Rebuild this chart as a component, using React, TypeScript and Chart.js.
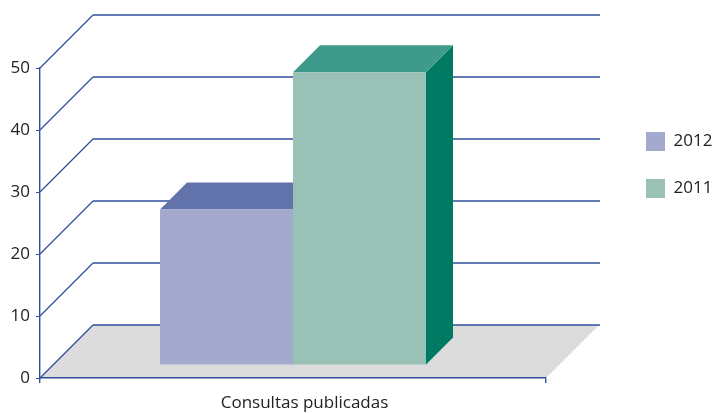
import React, { useEffect, useRef } from "react";
import { Chart, registerables } from "chart.js";

Chart.register(...registerables);

const categories = ["Consultas publicadas"];
const seriesNames = ["2012", "2011"];
const values2012 = [25.1];
const values2011 = [47.2];
const yTicksMax = 50;
const yTicksStep = 10;

const frontColors = ["#a3aacd", "#9ac1b6"];
const topColors = ["#6272ab", "#3e9a8b"];
const sideColors = ["#55649f", "#007a63"];

const AXIS = "#2f4f9c";
const FLOOR = "#dcdcdc";
const TEXT = "#222222";
const FONT = "'Open Sans', sans-serif";
const WALL = 53;
const BAR_DEPTH = 27;
const BAR_LIFT = 13;

const poly = (ctx: CanvasRenderingContext2D, pts: number[][], fill: string) => {
  ctx.beginPath();
  pts.forEach(([x, y], i) => (i ? ctx.lineTo(x, y) : ctx.moveTo(x, y)));
  ctx.closePath();
  ctx.fillStyle = fill;
  ctx.fill();
};

const solid3d = {
  id: "solid3d",
  afterLayout(chart: any) {
    const legend = chart.legend;
    if (!legend) return;
    const pad = legend.options.labels.padding;
    legend.left = 646 - pad;
    legend.right = 717;
    legend.top = 132 - pad;
    legend.bottom = 230;
  },
  beforeDraw(chart: any) {
    const { ctx, chartArea, scales } = chart;
    const { left, right, bottom } = chartArea;
    ctx.save();
    poly(
      ctx,
      [
        [left, bottom],
        [left + WALL, bottom - WALL],
        [right + WALL, bottom - WALL],
        [right, bottom],
      ],
      FLOOR
    );
    ctx.strokeStyle = AXIS;
    scales.y.ticks.forEach((_: any, i: number) => {
      const y = Math.round(scales.y.getPixelForTick(i));
      ctx.lineWidth = 1.3;
      ctx.beginPath();
      ctx.moveTo(left, y);
      ctx.lineTo(left + WALL, y - WALL);
      ctx.stroke();
      ctx.lineWidth = 1.4;
      ctx.beginPath();
      ctx.moveTo(left + WALL, y - WALL);
      ctx.lineTo(right + WALL + 1, y - WALL);
      ctx.stroke();
    });
    ctx.restore();
  },
  beforeDatasetsDraw(chart: any) {
    const { ctx } = chart;
    ctx.save();
    chart.data.datasets.forEach((_: any, di: number) => {
      chart.getDatasetMeta(di).data.forEach((bar: any) => {
        const x0 = bar.x - bar.width / 2;
        const x1 = bar.x + bar.width / 2;
        const t = bar.y - BAR_LIFT;
        const b = bar.base - BAR_LIFT;
        poly(
          ctx,
          [
            [x1, t],
            [x1 + BAR_DEPTH, t - BAR_DEPTH],
            [x1 + BAR_DEPTH, b - BAR_DEPTH],
            [x1, b],
          ],
          sideColors[di]
        );
        poly(
          ctx,
          [
            [x0, t],
            [x0 + BAR_DEPTH, t - BAR_DEPTH],
            [x1 + BAR_DEPTH, t - BAR_DEPTH],
            [x1, t],
          ],
          topColors[di]
        );
      });
    });
    ctx.restore();
  },
  beforeDatasetDraw(chart: any) {
    chart.ctx.save();
    chart.ctx.translate(0, -BAR_LIFT);
  },
  afterDatasetDraw(chart: any) {
    chart.ctx.restore();
  },
};

export default function App() {
  const ref = useRef<HTMLCanvasElement>(null);
  useEffect(() => {
    const chart = new Chart(ref.current as HTMLCanvasElement, {
      type: "bar",
      data: {
        labels: categories,
        datasets: [
          { label: seriesNames[0], data: values2012, backgroundColor: frontColors[0], borderWidth: 0, clip: false },
          { label: seriesNames[1], data: values2011, backgroundColor: frontColors[1], borderWidth: 0, clip: false },
        ],
      } as any,
      options: {
        responsive: false,
        animation: false,
        devicePixelRatio: 1,
        layout: { padding: { top: 68, right: 171, left: 0, bottom: 0 } },
        datasets: { bar: { categoryPercentage: 266 / 506, barPercentage: 1 } },
        plugins: {
          tooltip: { enabled: false },
          title: { display: false },
          legend: {
            position: "chartArea",
            align: "start",
            labels: {
              boxWidth: 19,
              boxHeight: 19,
              padding: 28,
              color: TEXT,
              font: { family: FONT, size: 17 },
            },
          },
        },
        scales: {
          x: {
            afterFit: (s: any) => {
              s.height = 35;
            },
            grid: { drawOnChartArea: false, drawTicks: true, tickLength: 5, color: AXIS, lineWidth: 1.4 },
            border: { color: AXIS, width: 1.4 },
            ticks: {
              color: TEXT,
              font: { family: FONT, size: 17 },
              padding: 10,
              labelOffset: 11.5,
              maxRotation: 0,
            },
          },
          y: {
            min: 0,
            max: yTicksMax,
            afterFit: (s: any) => {
              s.width = 40;
            },
            grid: { drawOnChartArea: false, drawTicks: true, tickLength: 4, color: AXIS, lineWidth: 1 },
            border: { color: AXIS, width: 1.4 },
            ticks: {
              stepSize: yTicksStep,
              color: TEXT,
              font: { family: FONT, size: 17 },
              padding: 6,
            },
          },
        },
      } as any,
      plugins: [solid3d],
    } as any);
    return () => chart.destroy();
  }, []);
  return (
    <div style={{ position: "fixed", left: 0, top: 0, width: 717, height: 413, background: "#fff" }}>
      <canvas ref={ref} width={717} height={413} style={{ display: "block", width: 717, height: 413 }} />
    </div>
  );
}
